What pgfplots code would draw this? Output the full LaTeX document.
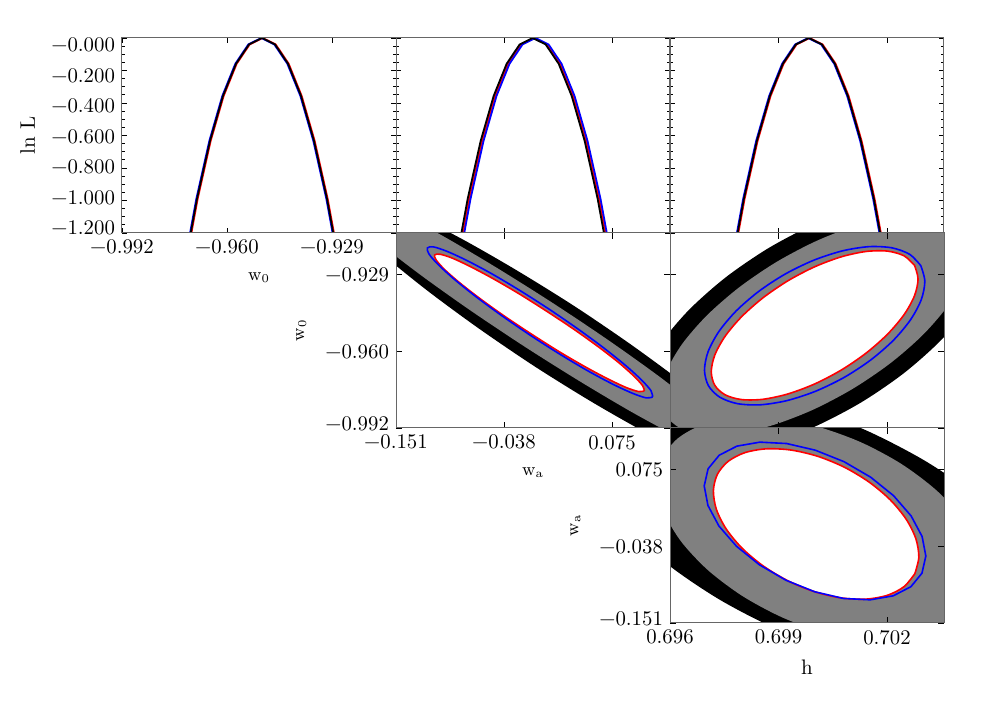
\documentclass[border=0pt]{standalone}
\usepackage{fontspec}
\usepackage{pgfplots}
\usepackage{pgfplotstable}
\pgfplotsset{compat=1.18}

% ---------- panel (w_a, w_0) ----------
\pgfplotstableread{
x y
0.2432 -1.0124
0.2301 -1.0137
0.2023 -1.0108
0.1618 -1.0042
0.1113 -0.9941
0.0542 -0.9814
-0.0055 -0.9669
-0.0639 -0.9514
-0.1168 -0.9362
-0.1608 -0.9223
-0.1928 -0.9105
-0.2107 -0.9018
-0.2132 -0.8966
-0.2001 -0.8953
-0.1723 -0.8981
-0.1318 -0.9048
-0.0813 -0.9148
-0.0242 -0.9276
0.0355 -0.9421
0.0939 -0.9576
0.1468 -0.9728
0.1908 -0.9867
0.2228 -0.9985
0.2407 -1.0072
0.2432 -1.0124
}\blackA
\pgfplotstableread{
x y
0.2174 -1.0054
0.2061 -1.0058
0.1806 -1.0024
0.1427 -0.9954
0.0949 -0.9853
0.0405 -0.9727
-0.0168 -0.9586
-0.0731 -0.9439
-0.1245 -0.9296
-0.1676 -0.9166
-0.1994 -0.9059
-0.2177 -0.8982
-0.2214 -0.8940
-0.2101 -0.8936
-0.1846 -0.8970
-0.1467 -0.9040
-0.0989 -0.9141
-0.0445 -0.9267
0.0128 -0.9408
0.0691 -0.9555
0.1205 -0.9698
0.1636 -0.9828
0.1954 -0.9935
0.2137 -1.0012
0.2174 -1.0054
}\greyA
\pgfplotstableread{
x y
0.1088 -0.9768
0.1030 -0.9771
0.0902 -0.9755
0.0711 -0.9720
0.0471 -0.9670
0.0199 -0.9608
-0.0088 -0.9537
-0.0369 -0.9464
-0.0626 -0.9392
-0.0840 -0.9327
-0.0998 -0.9273
-0.1089 -0.9233
-0.1106 -0.9212
-0.1048 -0.9209
-0.0920 -0.9225
-0.0729 -0.9260
-0.0489 -0.9310
-0.0217 -0.9372
0.0070 -0.9443
0.0351 -0.9516
0.0608 -0.9588
0.0822 -0.9653
0.0980 -0.9708
0.1071 -0.9747
0.1088 -0.9768
}\redA
\pgfplotstableread{
x y
0.1175 -0.9793
0.1111 -0.9797
0.0971 -0.9779
0.0765 -0.9742
0.0506 -0.9688
0.0213 -0.9620
-0.0095 -0.9543
-0.0397 -0.9462
-0.0672 -0.9383
-0.0901 -0.9311
-0.1069 -0.9251
-0.1165 -0.9208
-0.1181 -0.9183
-0.1117 -0.9179
-0.0977 -0.9197
-0.0771 -0.9234
-0.0512 -0.9288
-0.0219 -0.9356
0.0089 -0.9433
0.0391 -0.9514
0.0666 -0.9593
0.0895 -0.9665
0.1063 -0.9725
0.1159 -0.9768
0.1175 -0.9793
}\blueA

% ---------- panel (h, w_0) ----------
\pgfplotstableread{
x y
0.704740 -0.90786
0.704910 -0.91747
0.704746 -0.92929
0.704258 -0.94252
0.703480 -0.95626
0.702465 -0.96958
0.701282 -0.98156
0.700011 -0.99139
0.698740 -0.99840
0.697554 -1.00211
0.696536 -1.00227
0.695753 -0.99887
0.695260 -0.99214
0.695090 -0.98253
0.695254 -0.97071
0.695742 -0.95748
0.696520 -0.94374
0.697535 -0.93042
0.698718 -0.91844
0.699989 -0.90861
0.701260 -0.90160
0.702446 -0.89789
0.703464 -0.89773
0.704247 -0.90113
0.704740 -0.90786
}\blackB
\pgfplotstableread{
x y
0.704124 -0.91334
0.704256 -0.92131
0.704098 -0.93123
0.703661 -0.94243
0.702975 -0.95414
0.702085 -0.96558
0.701054 -0.97595
0.699951 -0.98455
0.698851 -0.99080
0.697829 -0.99427
0.696955 -0.99472
0.696289 -0.99213
0.695876 -0.98666
0.695744 -0.97869
0.695902 -0.96877
0.696339 -0.95757
0.697025 -0.94586
0.697915 -0.93442
0.698946 -0.92405
0.700050 -0.91545
0.701150 -0.90920
0.702171 -0.90573
0.703045 -0.90528
0.703711 -0.90788
0.704124 -0.91334
}\greyB
\pgfplotstableread{
x y
0.702761 -0.92546
0.702859 -0.93101
0.702761 -0.93786
0.702476 -0.94554
0.702022 -0.95352
0.701430 -0.96126
0.700741 -0.96824
0.700001 -0.97397
0.699261 -0.97806
0.698571 -0.98025
0.697979 -0.98037
0.697525 -0.97843
0.697239 -0.97454
0.697141 -0.96899
0.697239 -0.96214
0.697524 -0.95446
0.697978 -0.94648
0.698570 -0.93874
0.699259 -0.93177
0.699999 -0.92604
0.700739 -0.92194
0.701429 -0.91975
0.702021 -0.91963
0.702475 -0.92157
0.702761 -0.92546
}\redB
\pgfplotstableread{
x y
0.702936 -0.92558
0.703046 -0.93190
0.702948 -0.93946
0.702649 -0.94775
0.702170 -0.95621
0.701542 -0.96425
0.700810 -0.97134
0.700023 -0.97697
0.699234 -0.98079
0.698497 -0.98251
0.697862 -0.98203
0.697374 -0.97937
0.697064 -0.97473
0.696954 -0.96840
0.697052 -0.96084
0.697351 -0.95255
0.697830 -0.94409
0.698458 -0.93605
0.699190 -0.92896
0.699977 -0.92333
0.700767 -0.91952
0.701503 -0.91779
0.702138 -0.91828
0.702626 -0.92093
0.702936 -0.92558
}\blueB

% ---------- panel (h, w_a) ----------
\pgfplotstableread{
x y
0.706515 -0.16373
0.705982 -0.19646
0.705056 -0.21680
0.703798 -0.22335
0.702296 -0.21567
0.700650 -0.19428
0.698974 -0.16064
0.697382 -0.11704
0.695971 -0.06646
0.694868 -0.01234
0.694119 0.04164
0.693784 0.09179
0.693885 0.13469
0.694418 0.16742
0.695345 0.18776
0.696602 0.19431
0.698104 0.18663
0.699750 0.16524
0.701426 0.13160
0.703018 0.08800
0.704429 0.03742
0.705532 -0.01670
0.706281 -0.07068
0.706617 -0.12083
0.706515 -0.16373
}\blackC
\pgfplotstableread{
x y
0.704620 -0.11896
0.704190 -0.14871
0.703488 -0.16932
0.702562 -0.17938
0.701475 -0.17820
0.700301 -0.16586
0.699120 -0.14322
0.698013 -0.11180
0.697055 -0.07375
0.696311 -0.03167
0.695832 0.01158
0.695651 0.05306
0.695780 0.08992
0.696210 0.11967
0.696912 0.14028
0.697838 0.15034
0.698925 0.14916
0.700099 0.13682
0.701280 0.11418
0.702387 0.08276
0.703345 0.04471
0.704089 0.00263
0.704568 -0.04062
0.704749 -0.08210
0.704620 -0.11896
}\greyC
\pgfplotstableread{
x y
0.702770 -0.07856
0.702473 -0.09759
0.702010 -0.11036
0.701413 -0.11600
0.700723 -0.11412
0.699986 -0.10485
0.699252 -0.08882
0.698573 -0.06713
0.697993 -0.04126
0.697553 -0.01296
0.697282 0.01584
0.697200 0.04316
0.697310 0.06716
0.697607 0.08619
0.698070 0.09896
0.698667 0.10460
0.699357 0.10272
0.700094 0.09345
0.700828 0.07742
0.701507 0.05573
0.702087 0.02986
0.702527 0.00156
0.702798 -0.02724
0.702880 -0.05456
0.702770 -0.07856
}\redC
\pgfplotstableread{
x y
0.702967 -0.07786
0.702660 -0.09778
0.702171 -0.11113
0.701536 -0.11699
0.700796 -0.11497
0.700003 -0.10520
0.699210 -0.08836
0.698472 -0.06557
0.697839 -0.03841
0.697353 -0.00872
0.697049 0.02147
0.696946 0.05012
0.697053 0.07526
0.697360 0.09518
0.697849 0.10853
0.698485 0.11439
0.699224 0.11237
0.700017 0.10260
0.700810 0.08576
0.701548 0.06297
0.702182 0.03581
0.702667 0.00612
0.702971 -0.02407
0.703074 -0.05272
0.702967 -0.07786
}\blueC

\tikzset{lab/.style={font=\fontsize{9}{10}\selectfont}}
\pgfplotsset{
  panel/.style={
    scale only axis, width=137pt, height=97.5pt, anchor=south west,
    axis on top, tick align=inside, xtick pos=both, ytick pos=both,
    axis line style={black!60, line width=0.5pt},
    tick style={black, line width=0.45pt},
    major tick length=2.6pt, minor tick length=1.5pt,
    tick label style={font=\fontsize{10.4}{12}\selectfont},
    xlabel style={at={(axis description cs:0.5,-0.231)}, anchor=center},
    ylabel style={at={(axis description cs:-0.345,0.5)}, anchor=center},
  },
  onedim/.style={panel, ymin=-1.2, ymax=0,
    ytick={-1.2,-1.0,-0.8,-0.6,-0.4,-0.2,0}, minor y tick num=3},
  twodim/.style={panel, major tick length=3.2pt,
    yticklabel style={yshift={ifthenelse(\ticknum==0,2.2,-0.6)*1pt}}},
}

\begin{document}
\begin{tikzpicture}
\useasboundingbox (0,0) rectangle (490.5pt,350.5pt);
\fill[white] (0,0) rectangle (490.5pt,350.5pt);

% ===== row 1: 1D likelihoods =====
\begin{axis}[onedim, at={(61pt,234pt)},
  xmin=-0.992, xmax=-0.9098,
  xtick={-0.992,-0.9605,-0.929}, xticklabels={−0.992,−0.960,−0.929},
  yticklabels={−1.200,−1.000,−0.800,−0.600,−0.400,−0.200,−0.000},
  yticklabel style={yshift={2.5pt-\ticknum*1pt}},
  xlabel={w\textsubscript{0}}, xlabel style={lab},
  ylabel={ln L}, ylabel style={font=\fontsize{10.5}{12}\selectfont}]
\addplot[red, line width=0.9pt] coordinates {(-0.9732,-1.4252) (-0.9693,-0.9897) (-0.9654,-0.6334) (-0.9615,-0.3563) (-0.9576,-0.1584) (-0.9537,-0.0396) (-0.9498,0) (-0.9459,-0.0396) (-0.9420,-0.1584) (-0.9381,-0.3563) (-0.9342,-0.6334) (-0.9303,-0.9897) (-0.9264,-1.4252)};
\addplot[blue, line width=0.9pt] coordinates {(-0.9736,-1.4252) (-0.9697,-0.9897) (-0.9658,-0.6334) (-0.9619,-0.3563) (-0.9580,-0.1584) (-0.9541,-0.0396) (-0.9502,0) (-0.9463,-0.0396) (-0.9424,-0.1584) (-0.9385,-0.3563) (-0.9346,-0.6334) (-0.9307,-0.9897) (-0.9268,-1.4252)};
\addplot[black, line width=0.9pt] coordinates {(-0.9734,-1.4252) (-0.9695,-0.9897) (-0.9656,-0.6334) (-0.9617,-0.3563) (-0.9578,-0.1584) (-0.9539,-0.0396) (-0.9500,0) (-0.9461,-0.0396) (-0.9422,-0.1584) (-0.9383,-0.3563) (-0.9344,-0.6334) (-0.9305,-0.9897) (-0.9266,-1.4252)};
\end{axis}

\begin{axis}[onedim, at={(198pt,234pt)},
  xmin=-0.151, xmax=0.1357,
  xtick={-0.151,-0.038,0.075}, xticklabels={}, yticklabels={}]
\addplot[red, line width=0.9pt] coordinates {(-0.0881,-1.4252) (-0.0745,-0.9897) (-0.0609,-0.6334) (-0.0473,-0.3563) (-0.0337,-0.1584) (-0.0201,-0.0396) (-0.0065,0) (0.0071,-0.0396) (0.0207,-0.1584) (0.0343,-0.3563) (0.0479,-0.6334) (0.0615,-0.9897) (0.0751,-1.4252)};
\addplot[blue, line width=0.9pt] coordinates {(-0.0866,-1.4252) (-0.0730,-0.9897) (-0.0594,-0.6334) (-0.0458,-0.3563) (-0.0322,-0.1584) (-0.0186,-0.0396) (-0.0050,0) (0.0086,-0.0396) (0.0222,-0.1584) (0.0358,-0.3563) (0.0494,-0.6334) (0.0630,-0.9897) (0.0766,-1.4252)};
\addplot[black, line width=0.9pt] coordinates {(-0.0896,-1.4252) (-0.0760,-0.9897) (-0.0624,-0.6334) (-0.0488,-0.3563) (-0.0352,-0.1584) (-0.0216,-0.0396) (-0.0080,0) (0.0056,-0.0396) (0.0192,-0.1584) (0.0328,-0.3563) (0.0464,-0.6334) (0.0600,-0.9897) (0.0736,-1.4252)};
\end{axis}

\begin{axis}[onedim, at={(335pt,234pt)},
  xmin=0.696, xmax=0.703576,
  xtick={0.696,0.699,0.702}, xticklabels={}, yticklabels={}]
\addplot[red, line width=0.9pt] coordinates {(0.697704,-1.4252) (0.698063,-0.9897) (0.698422,-0.6334) (0.698782,-0.3563) (0.699141,-0.1584) (0.699501,-0.0396) (0.699860,0) (0.700219,-0.0396) (0.700579,-0.1584) (0.700938,-0.3563) (0.701298,-0.6334) (0.701657,-0.9897) (0.702016,-1.4252)};
\addplot[blue, line width=0.9pt] coordinates {(0.697664,-1.4252) (0.698023,-0.9897) (0.698382,-0.6334) (0.698742,-0.3563) (0.699101,-0.1584) (0.699461,-0.0396) (0.699820,0) (0.700179,-0.0396) (0.700539,-0.1584) (0.700898,-0.3563) (0.701258,-0.6334) (0.701617,-0.9897) (0.701976,-1.4252)};
\addplot[black, line width=0.9pt] coordinates {(0.697684,-1.4252) (0.698043,-0.9897) (0.698402,-0.6334) (0.698762,-0.3563) (0.699121,-0.1584) (0.699481,-0.0396) (0.699840,0) (0.700199,-0.0396) (0.700559,-0.1584) (0.700918,-0.3563) (0.701278,-0.6334) (0.701637,-0.9897) (0.701996,-1.4252)};
\end{axis}

% ===== row 2 =====
\begin{axis}[twodim, at={(198pt,136.5pt)},
  xmin=-0.151, xmax=0.1357, ymin=-0.992, ymax=-0.9122,
  xtick={-0.151,-0.038,0.075}, xticklabels={−0.151,−0.038,0.075},
  ytick={-0.992,-0.9605,-0.929}, yticklabels={−0.992,−0.960,−0.929},
  xlabel={w\textsubscript{a}}, xlabel style={lab},
  ylabel={w\textsubscript{0}}, ylabel style={lab}]
\addplot[draw=none, fill=black, smooth] table {\blackA};
\addplot[draw=none, fill=gray, smooth] table {\greyA};
\addplot[draw=none, fill=white, smooth] table {\redA};
\addplot[red, line width=0.8pt, smooth] table {\redA};
\addplot[blue, line width=0.8pt, smooth] table {\blueA};
\end{axis}

\begin{axis}[twodim, at={(335pt,136.5pt)},
  xmin=0.696, xmax=0.703576, ymin=-0.992, ymax=-0.9122,
  xtick={0.696,0.699,0.702}, xticklabels={},
  ytick={-0.992,-0.9605,-0.929}, yticklabels={}]
\addplot[draw=none, fill=black, smooth] table {\blackB};
\addplot[draw=none, fill=gray, smooth] table {\greyB};
\addplot[draw=none, fill=white, smooth] table {\redB};
\addplot[red, line width=0.8pt, smooth] table {\redB};
\addplot[blue, line width=0.8pt, smooth] table {\blueB};
\end{axis}

% ===== row 3 =====
\begin{axis}[twodim, at={(335pt,39pt)},
  xmin=0.696, xmax=0.703576, ymin=-0.151, ymax=0.13517,
  xtick={0.696,0.699,0.702}, xticklabels={0.696,0.699,0.702},
  ytick={-0.151,-0.038,0.075}, yticklabels={−0.151,−0.038,0.075},
  xlabel={h}, xlabel style={font=\fontsize{10.5}{12}\selectfont, at={(axis description cs:0.5,-0.226)}},
  ylabel={w\textsubscript{a}}, ylabel style={lab}]
\addplot[draw=none, fill=black, smooth] table {\blackC};
\addplot[draw=none, fill=gray, smooth] table {\greyC};
\addplot[draw=none, fill=white, smooth] table {\redC};
\addplot[red, line width=0.8pt, smooth] table {\redC};
\addplot[blue, line width=0.8pt] table {\blueC};
\end{axis}
\end{tikzpicture}
\end{document}
